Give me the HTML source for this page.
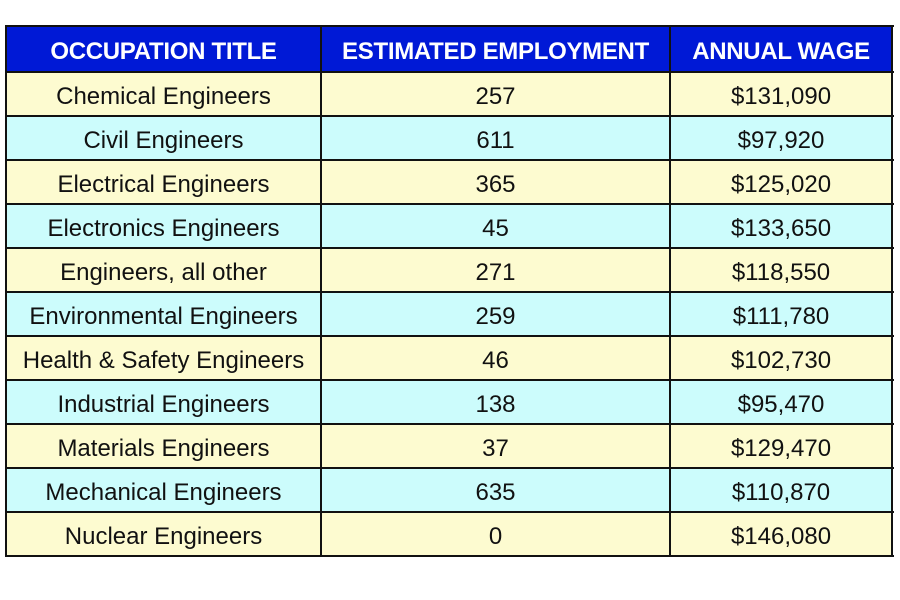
<!DOCTYPE html>
<html><head><style>
body{margin:0;width:900px;height:600px;background:#fff;position:relative;overflow:hidden;font-family:"Liberation Sans",Arial,sans-serif}
.c{position:absolute;box-sizing:border-box;display:flex;align-items:center;justify-content:center;font-size:24px;color:#111;padding-top:5px}
.h{background:#0019d6;color:#fff;font-weight:bold;font-size:24px;letter-spacing:-0.3px}
.y{background:#fdfbd0}
.b{background:#ccfcfc}
.l{position:absolute;background:#111}
</style></head><body>
<div id="t"></div>
<script>
var rows=[["Chemical Engineers","257","$131,090"],["Civil Engineers","611","$97,920"],["Electrical Engineers","365","$125,020"],["Electronics Engineers","45","$133,650"],["Engineers, all other","271","$118,550"],["Environmental Engineers","259","$111,780"],["Health &amp; Safety Engineers","46","$102,730"],["Industrial Engineers","138","$95,470"],["Materials Engineers","37","$129,470"],["Mechanical Engineers","635","$110,870"],["Nuclear Engineers","0","$146,080"]];
var xs=[6,321,670,892];
var h='';
var hd=["OCCUPATION TITLE","ESTIMATED EMPLOYMENT","ANNUAL WAGE"];
for(var j=0;j<3;j++)h+='<div class="c h" style="left:'+xs[j]+'px;top:26px;width:'+(xs[j+1]-xs[j])+'px;height:46px">'+hd[j]+'</div>';
for(var i=0;i<11;i++){var y=72+i*44;for(var j=0;j<3;j++)h+='<div class="c '+(i%2?'b':'y')+'" style="left:'+xs[j]+'px;top:'+y+'px;width:'+(xs[j+1]-xs[j])+'px;height:44px">'+rows[i][j]+'</div>';}
for(var i=0;i<=12;i++){var y=i==0?25:(i==1?71:71+(i-1)*44);h+='<div class="l" style="left:5px;top:'+y+'px;width:889px;height:2px"></div>';}
for(var j=0;j<4;j++)h+='<div class="l" style="left:'+(xs[j]-1)+'px;top:25px;width:2px;height:532px"></div>';
document.getElementById('t').innerHTML=h;
</script>
</body></html>
